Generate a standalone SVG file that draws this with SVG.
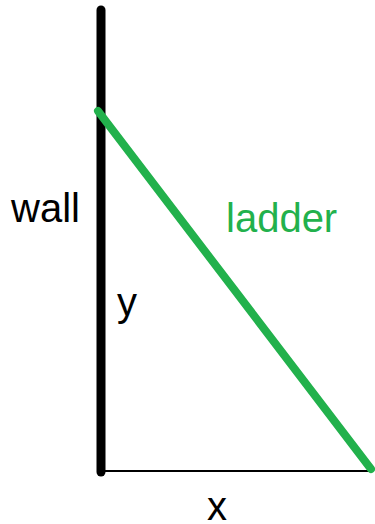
<svg xmlns="http://www.w3.org/2000/svg" width="375" height="524" viewBox="0 0 375 524">
<style>
text{font-family:"Liberation Sans",Arial,sans-serif;font-size:40px}
.blk{fill:#000}
.grn{fill:#22b14c}
</style>
<rect width="375" height="524" fill="#fff"/>
<g id="ground"><line x1="101" y1="471" x2="371" y2="471" stroke="#000" stroke-width="2"/></g>
<g id="wall"><line x1="101" y1="10" x2="101" y2="472" stroke="#000" stroke-width="9" stroke-linecap="round"/></g>
<g id="ladder"><line x1="98" y1="111" x2="371" y2="469" stroke="#22b14c" stroke-width="8" stroke-linecap="round"/></g>
<g id="labels">
<text class="blk" x="11" y="222">wall</text>
<text class="grn" x="226" y="232">ladder</text>
<text class="blk" x="117" y="316">y</text>
<text class="blk" x="207" y="520">x</text>
</g>
</svg>
